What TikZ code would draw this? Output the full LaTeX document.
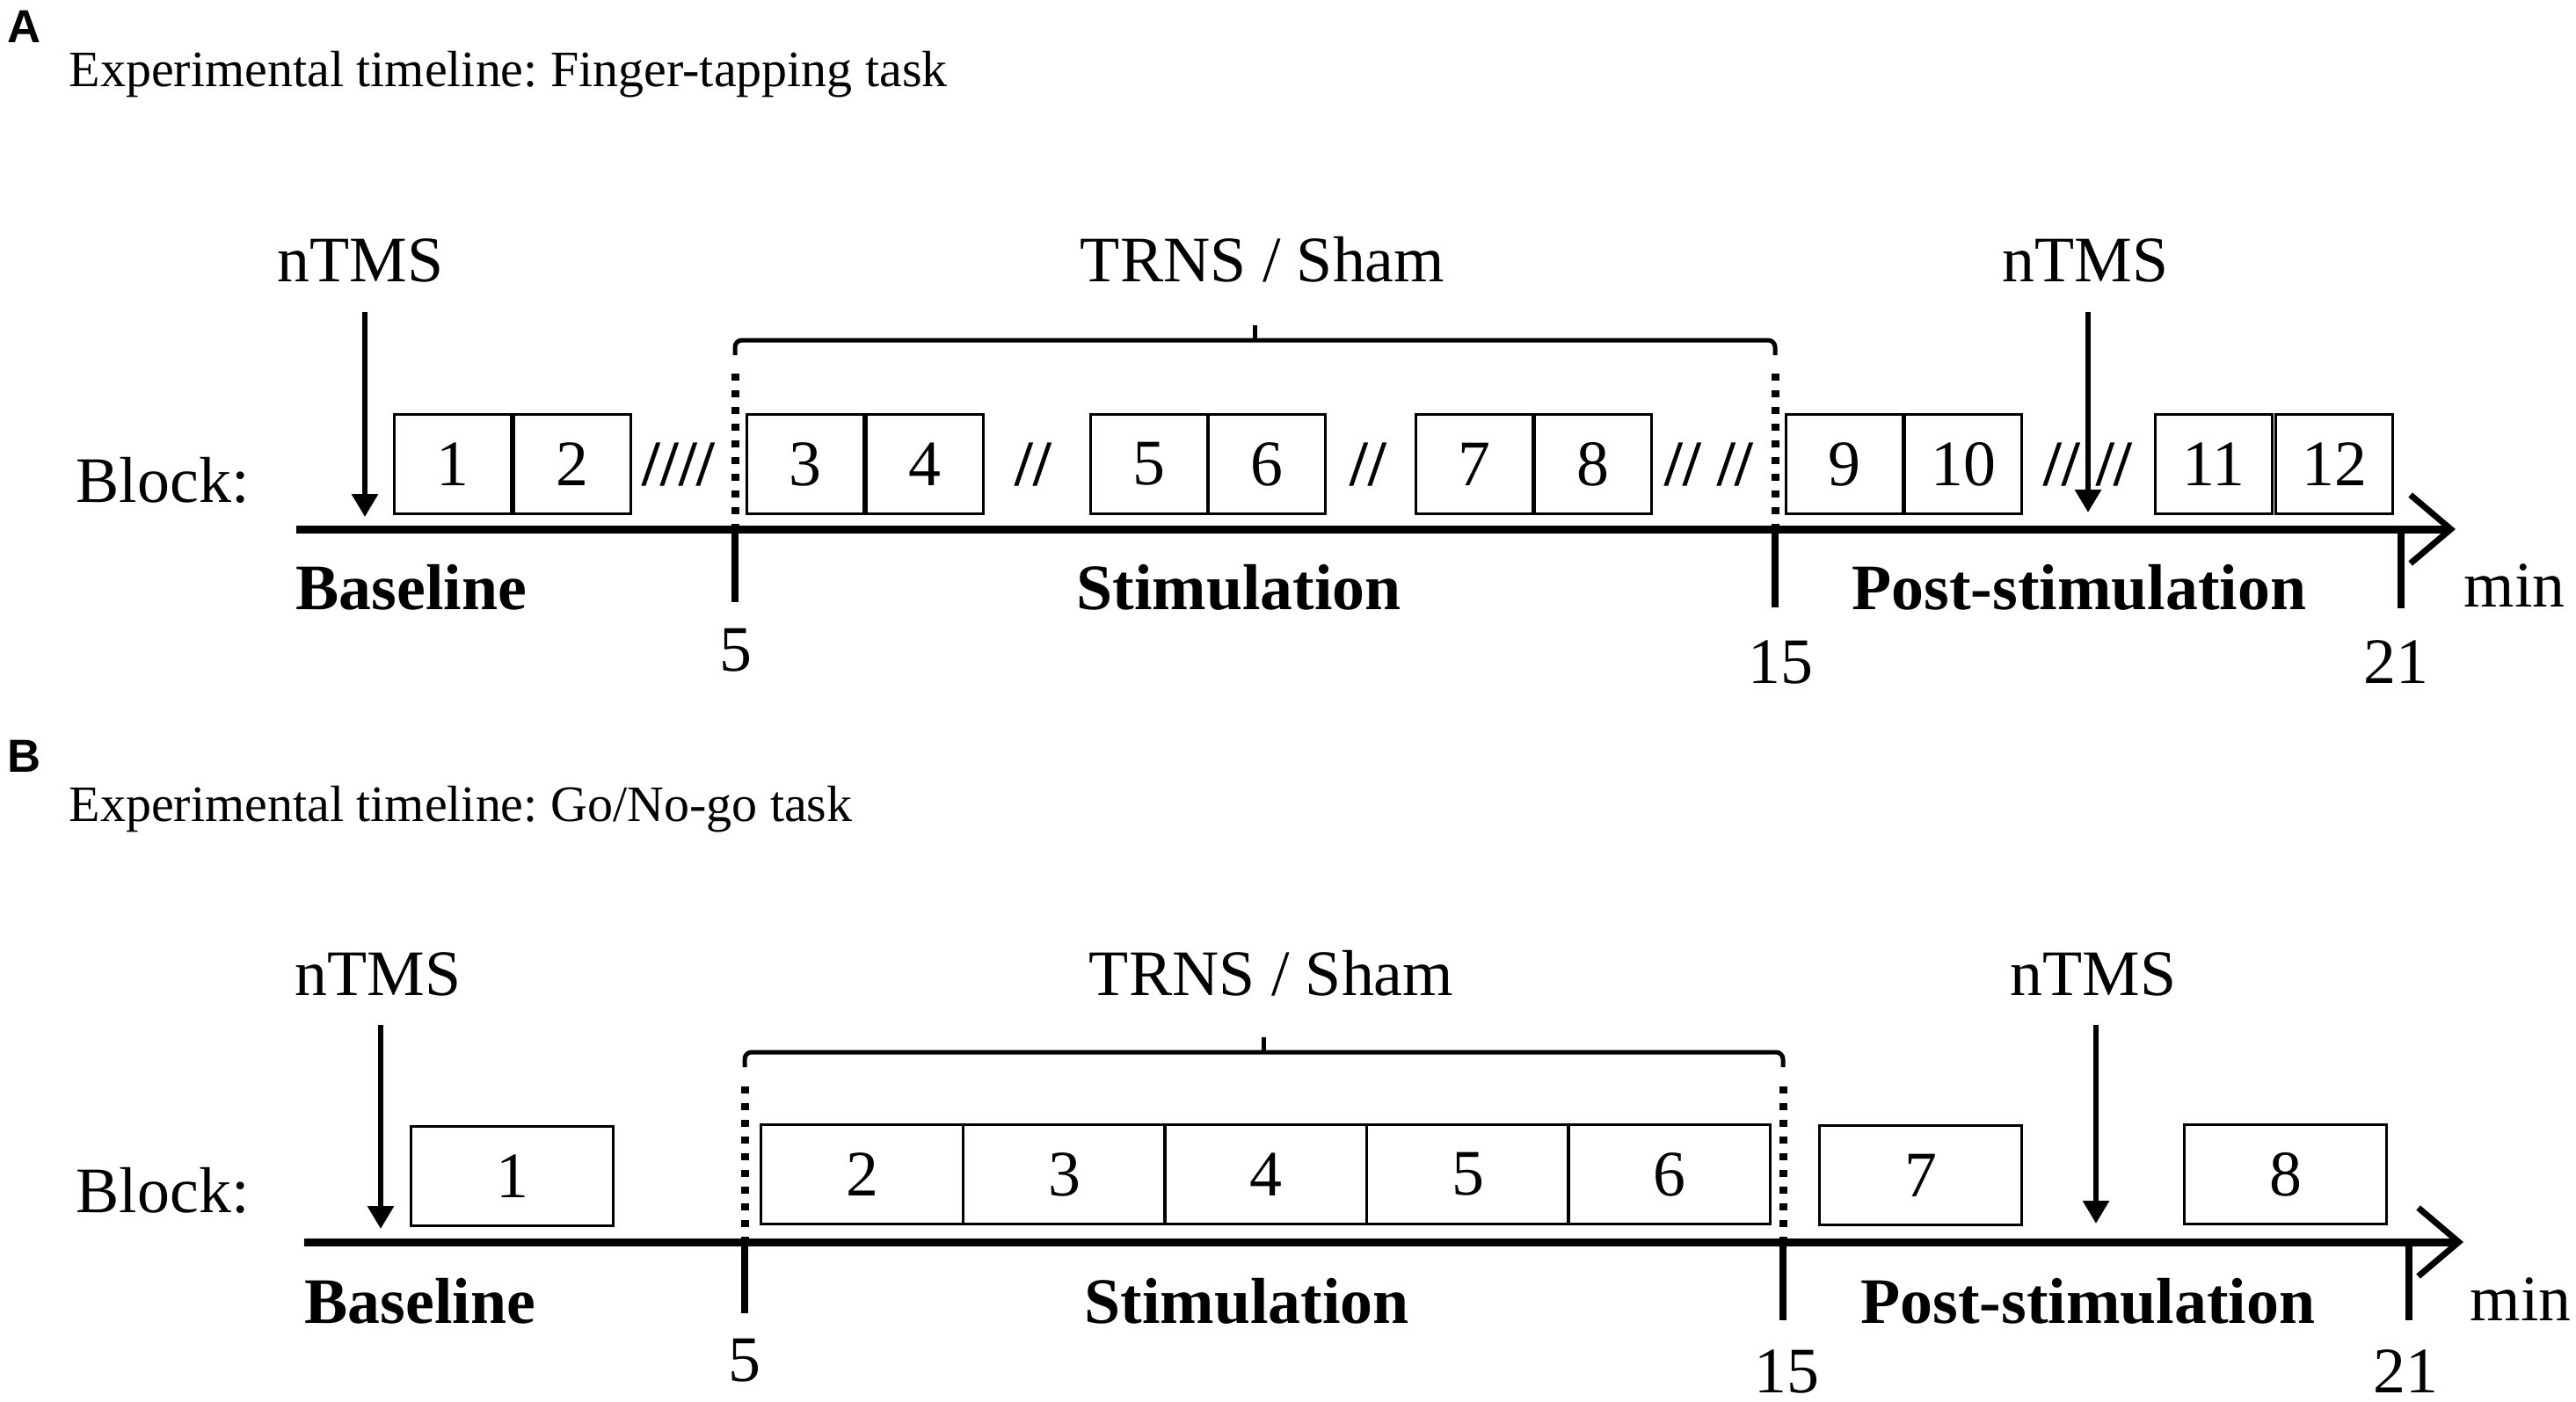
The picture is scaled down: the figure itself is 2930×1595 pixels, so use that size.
\documentclass[tikz,border=0pt]{standalone}
\usepackage{fontspec}
\setmainfont{Liberation Serif}
\newfontfamily\panelfont{Liberation Sans}
\usetikzlibrary{arrows.meta}
\frenchspacing

\begin{document}
\begin{tikzpicture}[x=0.1mm,y=-0.1mm,
      every node/.style={inner sep=0pt,font=\fontsize{21}{25}\selectfont},
      label text/.style={anchor=base},
      gap mark/.style={anchor=base,font=\fontsize{21}{25}\selectfont\bfseries},
      title text/.style={anchor=base west,font=\fontsize{16.5}{20}\selectfont},
      panel label/.style={anchor=base west,font={\panelfont\bfseries\fontsize{15}{18}\selectfont}},
      phase/.style={anchor=base,font=\fontsize{21}{25}\selectfont\bfseries},
      block box/.style={draw,line width=0.3mm,anchor=north west,minimum height=11.3mm},
      axis line/.style={line width=0.9mm,-{Straight Barb[length=4.6mm,width=7.8mm,line width=0.7mm]}},
      tick line/.style={line width=0.8mm},
      onset line/.style={line width=0.9mm,dash pattern=on 0.8mm off 1.1mm},
      stim brace/.style={line width=0.5mm,rounded corners=0.8mm},
      tms arrow/.style={line width=0.6mm,-{Triangle[length=2.6mm,width=2.9mm]}}]

  \useasboundingbox (0,0) rectangle (2930,1595);

  % A: finger-tapping
  \node[panel label] (labA) at (8,49) {A};
  \node[title text] (titleA) at (78,99) {Experimental timeline: Finger-tapping task};

  \node[label text] (ntmsA1) at (410,321) {nTMS};
  \node[label text] (stimA) at (1436,321) {TRNS / Sham};
  \node[label text] (ntmsA2) at (2372,321) {nTMS};
  \node[anchor=base west] (blockA) at (86,571) {Block:};

  \foreach \n/\x in {1/447,2/583,3/848,4/984,5/1239,6/1373,7/1609,8/1744,9/2030,10/2165,11/2450,12/2587}
    \node[block box,minimum width=13.3mm] (a\n) at (\x,470) {\n};

  \node[gap mark] (gapA1) at (772,552) {////};
  \node[gap mark] (gapA2) at (1175,552) {//};
  \node[gap mark] (gapA3) at (1556,552) {//};
  \node[gap mark] (gapA4) at (1944,552) {// //};
  \node[gap mark] (gapA5) at (2375,552) {// //};

  \coordinate (a0) at (337,602);
  \coordinate (a5) at (836,602);
  \coordinate (a15) at (2019,602);
  \coordinate (a21) at (2731,602);
  \coordinate (aEnd) at (2793,602);

  \draw[stim brace] (836,404) -- (836,387) -- (2019,387) -- (2019,404);
  \draw[stim brace] (1427,387) -- (1427,370);
  \draw[onset line] (836,425) -- (a5);
  \draw[onset line] (2019,425) -- (a15);

  \coordinate (tA1) at (415,355);
  \coordinate (hA1) at (415,588);
  \coordinate (tA2) at (2375,355);
  \coordinate (hA2) at (2375,583);
  \draw[tms arrow] (tA1) -- (hA1);
  \draw[tms arrow] (tA2) -- (hA2);

  \draw[axis line] (a0) -- (aEnd);
  \draw[tick line] (a5) -- ++(0,83);
  \draw[tick line] (a15) -- ++(0,89);
  \draw[tick line] (a21) -- ++(0,90);

  \node[phase,anchor=base west] (baseA) at (336,693) {Baseline};
  \node[phase] (duringA) at (1409,693) {Stimulation};
  \node[phase] (postA) at (2365,693) {Post-stimulation};
  \node[anchor=base west] (minA) at (2802,690) {min};
  \node[label text] (t5A) at (837,763) {5};
  \node[label text] (t15A) at (2025,777) {15};
  \node[label text] (t21A) at (2725,777) {21};

  % B: go/no-go
  \node[panel label] (labB) at (8,878) {B};
  \node[title text] (titleB) at (78,934) {Experimental timeline: Go/No-go task};

  \node[label text] (ntmsB1) at (430,1132) {nTMS};
  \node[label text] (stimB) at (1446,1132) {TRNS / Sham};
  \node[label text] (ntmsB2) at (2381,1132) {nTMS};
  \node[anchor=base west] (blockB) at (86,1379) {Block:};

  \node[block box,minimum width=23mm] (b1) at (466,1280) {1};
  \foreach \n/\x in {2/864,3/1094,4/1323,5/1553,6/1782}
    \node[block box,minimum width=23mm] (b\n) at (\x,1278) {\n};
  \node[block box,minimum width=23mm] (b7) at (2068,1279) {7};
  \node[block box,minimum width=23mm] (b8) at (2483,1278) {8};

  \coordinate (b0) at (346,1413);
  \coordinate (b5) at (847,1413);
  \coordinate (b15) at (2028,1413);
  \coordinate (b21) at (2740,1413);
  \coordinate (bEnd) at (2802,1413);

  \draw[stim brace] (847,1214) -- (847,1197) -- (2028,1197) -- (2028,1214);
  \draw[stim brace] (1437,1197) -- (1437,1180);
  \draw[onset line] (847,1236) -- (b5);
  \draw[onset line] (2028,1236) -- (b15);

  \coordinate (tB1) at (433,1166);
  \coordinate (hB1) at (433,1398);
  \coordinate (tB2) at (2384,1166);
  \coordinate (hB2) at (2384,1392);
  \draw[tms arrow] (tB1) -- (hB1);
  \draw[tms arrow] (tB2) -- (hB2);

  \draw[axis line] (b0) -- (bEnd);
  \draw[tick line] (b5) -- ++(0,81);
  \draw[tick line] (b15) -- ++(0,89);
  \draw[tick line] (b21) -- ++(0,89);

  \node[phase,anchor=base west] (baseB) at (346,1505) {Baseline};
  \node[phase] (duringB) at (1418,1505) {Stimulation};
  \node[phase] (postB) at (2375,1505) {Post-stimulation};
  \node[anchor=base west] (minB) at (2809,1502) {min};
  \node[label text] (t5B) at (847,1571) {5};
  \node[label text] (t15B) at (2032,1584) {15};
  \node[label text] (t21B) at (2736,1584) {21};
\end{tikzpicture}
\end{document}
